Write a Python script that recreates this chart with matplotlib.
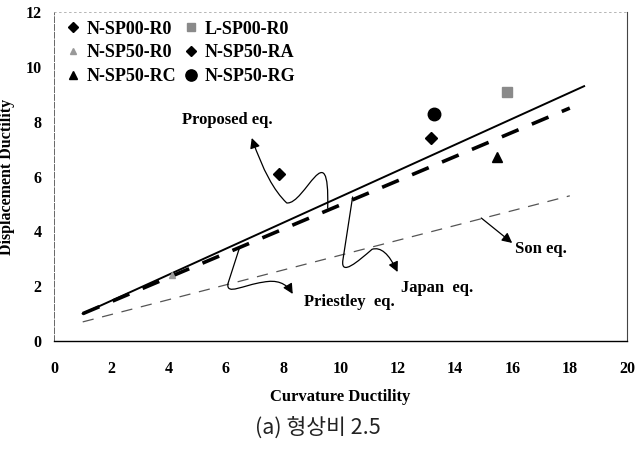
import numpy as np
import matplotlib
matplotlib.use('Agg')
from matplotlib import pyplot as plt
from matplotlib.path import Path
from matplotlib.patches import FancyArrowPatch

# equation lines (curvature ductility -> displacement ductility)
proposed_x = [1, 18.5]
proposed_y = [1.0, 9.3]
japan_x = [1, 18]
japan_y = [1.0, 8.5]
son_x = [1, 18]
son_y = [0.7, 5.3]

# test specimens
spec_names = ['N-SP00-R0', 'N-SP50-R0', 'N-SP50-RC', 'L-SP00-R0', 'N-SP50-RA', 'N-SP50-RG']
spec_x = [7.85, 4.1, 15.45, 15.8, 13.15, 13.25]
spec_y = [6.1, 2.4, 6.7, 9.1, 7.4, 8.3]

x_ticks = list(range(0, 21, 2))
y_ticks = list(range(0, 13, 2))

serif = 'Liberation Serif'

fig = plt.figure(figsize=(6.36, 4.5), dpi=100)
ax = fig.add_axes([0.085, 0.242, 0.901, 0.731])

ax.plot(proposed_x, proposed_y, color='black', lw=1.4, zorder=3)
ax.plot(japan_x, japan_y, color='black', lw=2.6, dashes=(5, 4), zorder=3)
ax.plot(son_x, son_y, color='#555555', lw=0.9, dashes=(9, 7), zorder=3)

styles = [
    dict(marker='D', color='black', ms=6),
    dict(marker='^', color='#999999', ms=5),
    dict(marker='^', color='black', ms=7),
    dict(marker='s', color='#8a8a8a', ms=7),
    dict(marker='D', color='black', ms=6),
    dict(marker='o', color='black', ms=9),
]
for name, x, y, st in zip(spec_names, spec_x, spec_y, styles):
    ax.plot([x], [y], ls='none', label=name, zorder=4, **st)

leg = ax.legend(loc='upper left', ncol=2, frameon=False, bbox_to_anchor=(-0.004, 1.024),
                prop={'family': serif, 'weight': 'bold', 'size': 13},
                handlelength=0.6, handletextpad=0.45, columnspacing=0.5,
                labelspacing=0.38, markerscale=0.9)

# annotation curves
M, L, C3, C4 = Path.MOVETO, Path.LINETO, Path.CURVE3, Path.CURVE4
curves = {
    'proposed': ([(9.55, 4.85), (9.62, 7.7), (8.75, 4.96), (8.12, 5.04), (7.46, 5.69), (6.9, 7.41)],
                 [M, C4, C4, C4, C3, C3]),
    'japan': ([(10.42, 5.26), (10.08, 2.95), (10.0, 2.35), (10.6, 2.9), (11.1, 3.35), (11.55, 3.5), (11.99, 2.52)],
              [M, L, C4, C4, C4, C3, C3]),
    'priestley': ([(6.48, 3.43), (6.07, 2.1), (6.0, 1.65), (6.6, 2.05), (7.3, 2.15), (8.0, 2.3), (8.33, 1.72)],
                  [M, L, C4, C4, C4, C3, C3]),
    'son': ([(14.91, 4.49), (15.99, 3.58)], [M, L]),
}
for verts, codes in curves.values():
    arr = FancyArrowPatch(path=Path(verts, codes), arrowstyle='-|>,head_length=6,head_width=3',
                          color='black', lw=0.9, zorder=5)
    ax.add_patch(arr)

txt = dict(family=serif, weight='bold', size=12, ha='center', va='center')
ax.text(6.06, 8.07, 'Proposed eq.', **txt)
ax.text(13.38, 1.93, 'Japan  eq.', **txt)
ax.text(10.31, 1.42, 'Priestley  eq.', **txt)
ax.text(17.0, 3.36, 'Son eq.', **txt)

ax.set_xlim(0, 20)
ax.set_ylim(0, 12)
ax.set_xticks(x_ticks)
ax.set_yticks(y_ticks)
ax.tick_params(length=0)
ax.tick_params(axis='x', pad=14)
ax.tick_params(axis='y', pad=9)
for lab in ax.get_xticklabels() + ax.get_yticklabels():
    lab.set_fontfamily(serif)
    lab.set_fontweight('bold')
    lab.set_fontsize(11.5)

ax.spines['bottom'].set_color('black')
ax.spines['bottom'].set_linewidth(1.0)
ax.spines['left'].set_color('#666666')
ax.spines['left'].set_linewidth(0.7)
ax.spines['left'].set_linestyle((0, (6, 2)))
ax.spines['top'].set_color('#aaaaaa')
ax.spines['top'].set_linewidth(0.6)
ax.spines['top'].set_linestyle((0, (2, 4)))
ax.spines['right'].set_color('#444444')
ax.spines['right'].set_linewidth(0.8)

ax.set_xlabel('Curvature Ductility', family=serif, weight='bold', size=12, labelpad=9)
ax.set_ylabel('Displacement Ductility', family=serif, weight='bold', size=11.5)
ax.yaxis.set_label_coords(-0.068, 0.5)

fig.text(0.5, 0.048, '(a) 형상비 2.5', ha='center', va='center', size=15.5,
         family=['Noto Sans CJK KR', 'DejaVu Sans'], color='#222222', weight='light')

fig.savefig('out.png', dpi=100)
